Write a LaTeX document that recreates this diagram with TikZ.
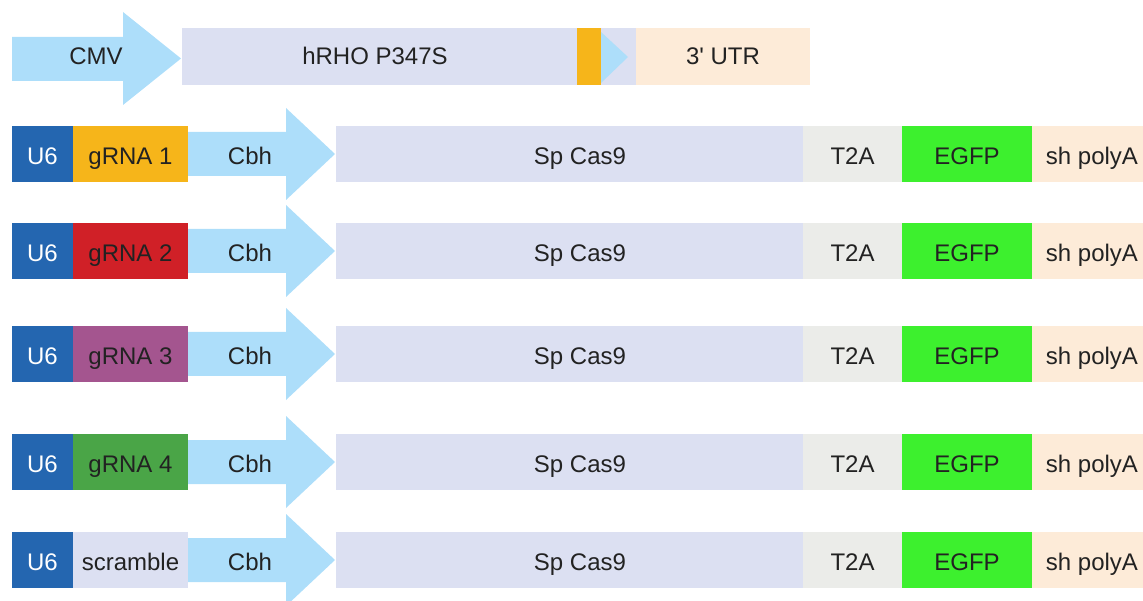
\documentclass[tikz,border=0pt]{standalone}
\usepackage{fontspec}
\setmainfont{Liberation Sans}[Ligatures=TeXOff]

\definecolor{arrowblue}{HTML}{ADDEFA}
\definecolor{lavender}{HTML}{DCE0F2}
\definecolor{amber}{HTML}{F6B51A}
\definecolor{peach}{HTML}{FDEBD8}
\definecolor{u6blue}{HTML}{2466B0}
\definecolor{grnared}{HTML}{D02027}
\definecolor{grnapurple}{HTML}{A4558F}
\definecolor{grnagreen}{HTML}{4AA547}
\definecolor{egfpgreen}{HTML}{3DF02E}
\definecolor{t2agray}{HTML}{EBECE9}
\definecolor{ink}{HTML}{222222}

\tikzset{
  seg/.style={draw=none, inner sep=0pt, outer sep=0pt, minimum height=56pt, anchor=west},
  lbl/.style={inner sep=0pt, text=ink, font=\fontsize{24}{28}\selectfont,
              text height=17pt, text depth=0pt},
  rowlbl/.style={lbl, yshift=-2pt},
  promoter/.style={fill=arrowblue},
}

% one U6-gRNA / Cbh-SpCas9-T2A-EGFP cassette, centred on a row
% #1 suffix, #2 row centre, #3 gRNA fill, #4 gRNA label
\newcommand\cassette[4]{%
  \begin{scope}[shift={(0,#2)}]
    \node[seg, fill=u6blue, minimum width=61pt] (u6#1) at (12,0) {};
    \node[seg, fill=#3, minimum width=115pt] (grna#1) at (u6#1.east) {};
    \fill[promoter] (188,-22) -- (286,-22) -- (286,-46) -- (335,0)
                    -- (286,46) -- (286,22) -- (188,22) -- cycle;
    \node[seg, fill=lavender, minimum width=467pt] (cas#1) at (336,0) {};
    \node[seg, fill=t2agray, minimum width=99pt] (t2a#1) at (cas#1.east) {};
    \node[seg, fill=egfpgreen, minimum width=130pt] (egfp#1) at (t2a#1.east) {};
    \node[seg, fill=peach, minimum width=112pt] (pa#1) at (egfp#1.east) {};
    \node[rowlbl, text=white] (u6t#1) at (u6#1.center) {U6};
    \node[rowlbl] (grnat#1) at (grna#1.center) {#4};
    \node[rowlbl] (cbh#1) at (250,0) {Cbh};
    \node[rowlbl] (cast#1) at (580,0) {Sp Cas9};
    \node[rowlbl] (t2at#1) at (t2a#1.center) {T2A};
    \node[rowlbl] (egfpt#1) at (egfp#1.center) {EGFP};
    \node[rowlbl] (pat#1) at (1092,0) {sh polyA};
  \end{scope}}

\begin{document}
\begin{tikzpicture}[x=1pt, y=-1pt]
  \useasboundingbox (0,0) rectangle (1143,601);

  % reporter: CMV-hRHO P347S-3'UTR
  \fill[promoter] (12,37) -- (123,37) -- (123,12) -- (181,58.5)
                  -- (123,105) -- (123,81) -- (12,81) -- cycle;
  \node[lbl] (cmv) at (96,56.5) {CMV};
  \node[seg, fill=lavender, minimum width=454pt, minimum height=57pt] (rho) at (182,56.5) {};
  \node[seg, fill=amber, minimum width=24pt, minimum height=57pt] (mut) at (577,56.5) {};
  \fill[arrowblue] (mut.east |- 0,32) -- (628,57) -- (mut.east |- 0,83) -- cycle;
  \node[seg, fill=peach, minimum width=174pt, minimum height=57pt] (utr) at (rho.east) {};
  \node[lbl] (rhot) at (375,56.5) {hRHO P347S};
  \node[lbl] (utrt) at (utr.center) {3' UTR};

  % CRISPR constructs
  \cassette{a}{154}{amber}{gRNA 1}
  \cassette{b}{251}{grnared}{gRNA 2}
  \cassette{c}{354}{grnapurple}{gRNA 3}
  \cassette{d}{462}{grnagreen}{gRNA 4}
  \cassette{e}{560}{lavender}{scramble}
\end{tikzpicture}
\end{document}
